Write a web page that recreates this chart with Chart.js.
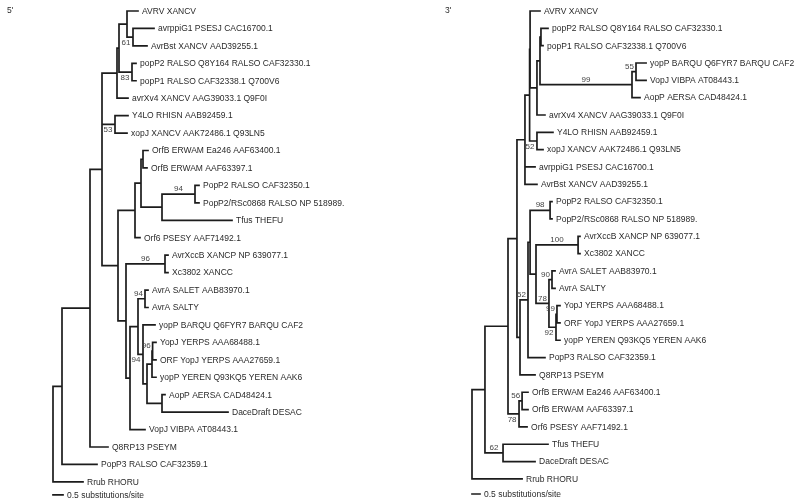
<!DOCTYPE html>
<html><head><meta charset="utf-8">
<script src="https://cdn.jsdelivr.net/npm/chart.js@4.4.1/dist/chart.umd.min.js"></script>
<style>
html,body{margin:0;padding:0;background:#fff;}
#wrap{position:relative;width:800px;height:503px;}
#wrap canvas{position:absolute;left:0;top:0;}
</style></head><body>
<div id="wrap"><canvas id="c5" width="800" height="503"></canvas><canvas id="c3" width="800" height="503"></canvas></div>
<script>
// ---------- 5' tree ----------
const taxa5 = ["AVRV XANCV","avrppiG1 PSESJ CAC16700.1","AvrBst XANCV AAD39255.1","popP2 RALSO Q8Y164 RALSO CAF32330.1","popP1 RALSO CAF32338.1 Q700V6","avrXv4 XANCV AAG39033.1 Q9F0I","Y4LO RHISN AAB92459.1","xopJ XANCV AAK72486.1 Q93LN5","OrfB ERWAM Ea246 AAF63400.1","OrfB ERWAM AAF63397.1","PopP2 RALSO CAF32350.1","PopP2/RSc0868 RALSO NP 518989.","Tfus THEFU","Orf6 PSESY AAF71492.1","AvrXccB XANCP NP 639077.1","Xc3802 XANCC","AvrA SALET AAB83970.1","AvrA SALTY","yopP BARQU Q6FYR7 BARQU CAF2","YopJ YERPS AAA68488.1","ORF YopJ YERPS AAA27659.1","yopP YEREN Q93KQ5 YEREN AAK6","AopP AERSA CAD48424.1","DaceDraft DESAC","VopJ VIBPA AT08443.1","Q8RP13 PSEYM","PopP3 RALSO CAF32359.1","Rrub RHORU"];
// distance of each tip from the root (substitutions/site)
const tipDepth5 = [4.25,5.05,4.7,4.15,4.15,3.75,3.75,3.7,4.75,4.7,7.3,7.3,8.95,4.35,5.75,5.75,4.75,4.75,5.1,5.15,5.15,5.15,5.6,8.75,4.6,2.75,2.2,1.5];
// internal nodes: range of tips they contain, distance from root, bootstrap
const cladeRange5 = [[0,27],[0,26],[0,25],[0,24],[0,5],[0,4],[0,2],[1,2],[3,4],[6,7],[8,24],[8,13],[8,12],[8,9],[10,12],[10,11],[14,24],[14,15],[16,24],[16,23],[16,17],[18,23],[19,23],[19,21],[22,23],[19,20]];
const cladeDepth5 = [0,0.45,1.85,2.45,3.2,3.3,3.7,4.0,3.95,3.1,3.25,4.1,4.4,4.5,5.45,7.1,3.65,5.6,3.85,4.25,4.6,4.5,4.7,4.95,5.45,4.98];
const cladeSupport5 = [null,null,null,null,null,null,null,61,83,53,null,null,null,null,null,94,null,96,null,null,94,94,null,null,null,96];
// clades whose bootstrap is written above their branch (layout choice)
const labelAbove5 = [20,25];

// ---------- 3' tree ----------
const taxa3 = ["AVRV XANCV","popP2 RALSO Q8Y164 RALSO CAF32330.1","popP1 RALSO CAF32338.1 Q700V6","yopP BARQU Q6FYR7 BARQU CAF2","VopJ VIBPA AT08443.1","AopP AERSA CAD48424.1","avrXv4 XANCV AAG39033.1 Q9F0I","Y4LO RHISN AAB92459.1","xopJ XANCV AAK72486.1 Q93LN5","avrppiG1 PSESJ CAC16700.1","AvrBst XANCV AAD39255.1","PopP2 RALSO CAF32350.1","PopP2/RSc0868 RALSO NP 518989.","AvrXccB XANCP NP 639077.1","Xc3802 XANCC","AvrA SALET AAB83970.1","AvrA SALTY","YopJ YERPS AAA68488.1","ORF YopJ YERPS AAA27659.1","yopP YEREN Q93KQ5 YEREN AAK6","PopP3 RALSO CAF32359.1","Q8RP13 PSEYM","OrfB ERWAM Ea246 AAF63400.1","OrfB ERWAM AAF63397.1","Orf6 PSESY AAF71492.1","Tfus THEFU","DaceDraft DESAC","Rrub RHORU"];
const tipDepth3 = [4.25,4.75,4.44,10.88,10.88,10.5,4.56,5.06,4.44,3.94,4.06,5.0,5.0,6.75,6.75,5.19,5.19,5.5,5.5,5.5,4.56,3.94,3.5,3.5,3.44,4.75,3.94,3.13];
const cladeRange3 = [[0,27],[0,26],[25,26],[0,24],[22,24],[22,23],[0,21],[0,10],[0,8],[0,6],[1,6],[1,5],[1,2],[3,5],[3,4],[7,8],[11,21],[11,20],[11,19],[11,12],[13,19],[13,14],[15,19],[15,16],[17,19],[17,18]];
const cladeDepth3 = [0,0.81,1.94,2.25,2.94,3.13,2.81,3.31,3.6,3.63,4.06,4.25,4.31,10.0,10.25,4.06,3.0,3.5,3.63,4.88,4.0,6.63,4.81,5.0,5.25,5.31];
const cladeSupport3 = [null,null,62,null,78,56,null,null,null,null,null,null,null,99,55,52,null,52,null,98,null,100,78,90,92,99];
const labelAbove3 = [5,14,17,22,23,25];

const scaleBarLength = 0.5;
const scaleBarText = "0.5 substitutions/site";

function buildTree(names, tipDepth, cladeRange, cladeDepth, cladeSupport, above) {
  const items = [];
  names.forEach((n,i)=>items.push({leaf:true,a:i,b:i,depth:tipDepth[i],name:n,y:i}));
  cladeRange.forEach((r,k)=>items.push({leaf:false,a:r[0],b:r[1],depth:cladeDepth[k],support:cladeSupport[k],above:above.includes(k)}));
  items.forEach(it=>{
    let best=null;
    items.forEach(c=>{
      if(c.leaf||c===it) return;
      if(c.a<=it.a && c.b>=it.b && (c.b-c.a)>(it.b-it.a)){
        if(!best||(c.b-c.a)<(best.b-best.a)) best=c;
      }
    });
    it.parent=best;
  });
  const clades = items.filter(i=>!i.leaf).sort((p,q)=>(p.b-p.a)-(q.b-q.a));
  clades.forEach(c=>{
    const ys = items.filter(i=>i.parent===c).map(i=>i.y);
    c.minY=Math.min(...ys); c.maxY=Math.max(...ys);
    c.y=(c.minY+c.maxY)/2;
  });
  return items;
}

function segments(items, barRow) {
  const pts=[];
  const gap={x:NaN,y:NaN};
  items.forEach(it=>{
    if(!it.leaf){ pts.push({x:it.depth,y:it.minY},{x:it.depth,y:it.maxY},gap); }
    if(it.parent){ pts.push({x:it.parent.depth,y:it.y},{x:it.depth,y:it.y},gap); }
  });
  pts.push({x:0,y:barRow},{x:scaleBarLength,y:barRow},gap);
  return pts;
}

const FONT = '8.5px "Liberation Sans", Arial, Helvetica, sans-serif';
const labelPlugin = {
  id:'treeLabels',
  afterDatasetsDraw(chart){
    const o=chart.options.plugins.treeLabels;
    const items=o.items, xs=chart.scales.x, ys=chart.scales.y, ctx=chart.ctx;
    ctx.save();
    ctx.font=FONT; ctx.fillStyle='#2a2a2a';
    ctx.textAlign='left'; ctx.textBaseline='middle';
    items.forEach(it=>{
      if(it.leaf) ctx.fillText(it.name, xs.getPixelForValue(it.depth)+4, ys.getPixelForValue(it.y)+0.5);
    });
    ctx.font='8px "Liberation Sans", Arial, Helvetica, sans-serif';
    ctx.fillStyle='#444';
    items.forEach(it=>{
      if(it.leaf||it.support==null||!it.parent) return;
      const t=String(it.support);
      const w=ctx.measureText(t).width;
      const nx=xs.getPixelForValue(it.depth), px=xs.getPixelForValue(it.parent.depth), ny=ys.getPixelForValue(it.y);
      if(nx-px>=w+6){ ctx.textAlign='center'; ctx.textBaseline='bottom'; ctx.fillText(t,(nx+px)/2,ny-1); }
      else if(it.above){ ctx.textAlign='right'; ctx.textBaseline='bottom'; ctx.fillText(t,nx-2,ny-1); }
      else { ctx.textAlign='right'; ctx.textBaseline='top'; ctx.fillText(t,nx-2.5,ny+1.5); }
    });
    ctx.font=FONT; ctx.fillStyle='#2a2a2a'; ctx.textAlign='left'; ctx.textBaseline='middle';
    ctx.fillText(scaleBarText, xs.getPixelForValue(scaleBarLength)+4, ys.getPixelForValue(o.barRow)+0.5);
    ctx.textBaseline='top';
    ctx.fillText(o.title, o.titleX, 6);
    ctx.restore();
  }
};

function makeChart(id, items, rowPx, rootPx, pxPerSub, barRow, title, titleX){
  const topPx=11;
  const yMin=-topPx/rowPx, yMax=yMin+503/rowPx;
  const xMin=-rootPx/pxPerSub, xMax=xMin+800/pxPerSub;
  return new Chart(document.getElementById(id),{
    type:'scatter',
    data:{datasets:[{data:segments(items,barRow),showLine:true,spanGaps:false,borderColor:'#1c1c1c',borderWidth:1.7,pointRadius:0,borderCapStyle:'square',tension:0,clip:false}]},
    options:{responsive:false,animation:false,events:[],layout:{padding:0},
      plugins:{legend:{display:false},tooltip:{enabled:false},treeLabels:{items,barRow,title,titleX}},
      scales:{x:{type:'linear',display:false,min:xMin,max:xMax},y:{type:'linear',display:false,reverse:true,min:yMin,max:yMax}}},
    plugins:[labelPlugin]
  });
}

const tree5=buildTree(taxa5,tipDepth5,cladeRange5,cladeDepth5,cladeSupport5,labelAbove5);
const tree3=buildTree(taxa3,tipDepth3,cladeRange3,cladeDepth3,cladeSupport3,labelAbove3);
makeChart('c5',tree5,17.44,53,20,27.75,"5'",7);
makeChart('c3',tree3,17.33,472,16,27.87,"3'",445);
</script></body></html>
